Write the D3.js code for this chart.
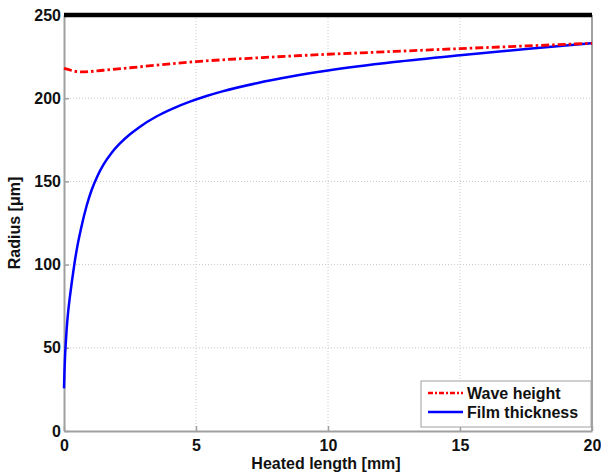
<!DOCTYPE html>
<html><head><meta charset="utf-8">
<script src="https://cdn.jsdelivr.net/npm/d3@7"></script>
<style>body{margin:0;background:#fff}svg{display:block}text{font-family:Arial,"Liberation Sans",sans-serif;font-weight:bold}</style>
</head><body><svg id="c" width="601" height="475"></svg>
<script>
const xTicks = [0,5,10,15,20];
const yTicks = [0,50,100,150,200,250];
const filmX = [0,0.02,0.04,0.064,0.1,0.16,0.23,0.3,0.39,0.5,0.65,0.86,1.05,1.26,1.5,1.8,2.1,2.5,2.88,3.5,4.14,4.77,5.4,6.0,7.3,8.6,10,12.5,15,17.5,20];
const filmY = [25.6,37,45,52,61,72,81.5,90,100,110.5,122,135.5,145,153,160.2,167.1,172.5,178.3,182.9,189,193.9,197.9,201.3,204.1,209.0,213.0,216.6,221.7,225.8,229.5,233];
const waveX = [0,0.15,0.4,0.7,1.5,2.5,5,7.5,10,12.5,15,17.5,20];
const waveY = [218,217.3,216.2,215.8,216.8,218.3,222,224.4,226.4,228.1,229.8,231.4,233];
const topX = [0,20];
const topY = [250,250];
const legendLabels = ["Wave height","Film thickness"];

const svg = d3.select("#c");
const L=64,R=592,T=15,B=431;
const x = d3.scaleLinear().domain([0,20]).range([L,R]);
const y = d3.scaleLinear().domain([0,250]).range([B,T]);

// grid
const g = svg.append("g");
g.selectAll(".vg").data(xTicks.filter(d=>d>0&&d<20)).enter().append("line")
  .attr("x1",d=>x(d)).attr("x2",d=>x(d)).attr("y1",T).attr("y2",B)
  .attr("stroke","#c8c8c8").attr("stroke-width",1).attr("stroke-dasharray","1,2");
g.selectAll(".hg").data(yTicks.filter(d=>d>0&&d<250)).enter().append("line")
  .attr("x1",L).attr("x2",R).attr("y1",d=>y(d)).attr("y2",d=>y(d))
  .attr("stroke","#c8c8c8").attr("stroke-width",1).attr("stroke-dasharray","1,2");

// axes
const xa = d3.axisBottom(x).tickValues(xTicks).tickSizeInner(-5).tickSizeOuter(0).tickPadding(9);
const ya = d3.axisLeft(y).tickValues(yTicks).tickSizeInner(-5).tickSizeOuter(0).tickPadding(3);
const gx = svg.append("g").attr("transform",`translate(0,${B})`).call(xa);
const gy = svg.append("g").attr("transform",`translate(${L},0)`).call(ya);
[gx,gy].forEach(a=>{
  a.select(".domain").attr("stroke","#a0a0a0").attr("stroke-width",2);
  a.selectAll(".tick line").attr("stroke","#a0a0a0").attr("stroke-width",1.5);
  a.selectAll(".tick text").attr("fill","#111").style("font-size","16px").style("font-family","Arial, 'Liberation Sans', sans-serif").style("font-weight","bold");
});
svg.append("line").attr("x1",R).attr("x2",R).attr("y1",T).attr("y2",B).attr("stroke","#a0a0a0").attr("stroke-width",2);

// lines
const line = (xs,ys)=>d3.line().curve(d3.curveMonotoneX).x((d,i)=>x(xs[i])).y((d,i)=>y(ys[i]))(xs);
svg.append("path").attr("d",line(topX,topY)).attr("fill","none").attr("stroke","#000").attr("stroke-width",4.5);
svg.append("path").attr("d",line(filmX,filmY)).attr("fill","none").attr("stroke","#0000ff").attr("stroke-width",2.5);
svg.append("path").attr("d",line(waveX,waveY)).attr("fill","none").attr("stroke","#ff0000").attr("stroke-width",2.8).attr("stroke-dasharray","8,3,2.5,3");

// axis labels
svg.append("text").attr("x",(L+R)/2 - 2).attr("y",469).attr("text-anchor","middle").style("font-size","16px").attr("fill","#111").text("Heated length [mm]");
svg.append("text").attr("transform",`translate(20,${(T+B)/2}) rotate(-90)`).attr("text-anchor","middle").style("font-size","16px").attr("fill","#111").text("Radius [μm]");

// legend
const lg = svg.append("g");
lg.append("rect").attr("x",421).attr("y",381).attr("width",170).attr("height",46).attr("fill","#fff").attr("stroke","#a0a0a0").attr("stroke-width",1);
const styles=[{c:"#ff0000",d:"5,2,2,2"},{c:"#0000ff",d:null}];
legendLabels.forEach((t,i)=>{
  const yy = 393 + i*19;
  lg.append("line").attr("x1",428).attr("x2",463).attr("y1",yy).attr("y2",yy).attr("stroke",styles[i].c).attr("stroke-width",2.5).attr("stroke-dasharray",styles[i].d);
  lg.append("text").attr("x",467).attr("y",yy+6).style("font-size","16px").attr("fill","#111").text(t);
});
</script></body></html>
